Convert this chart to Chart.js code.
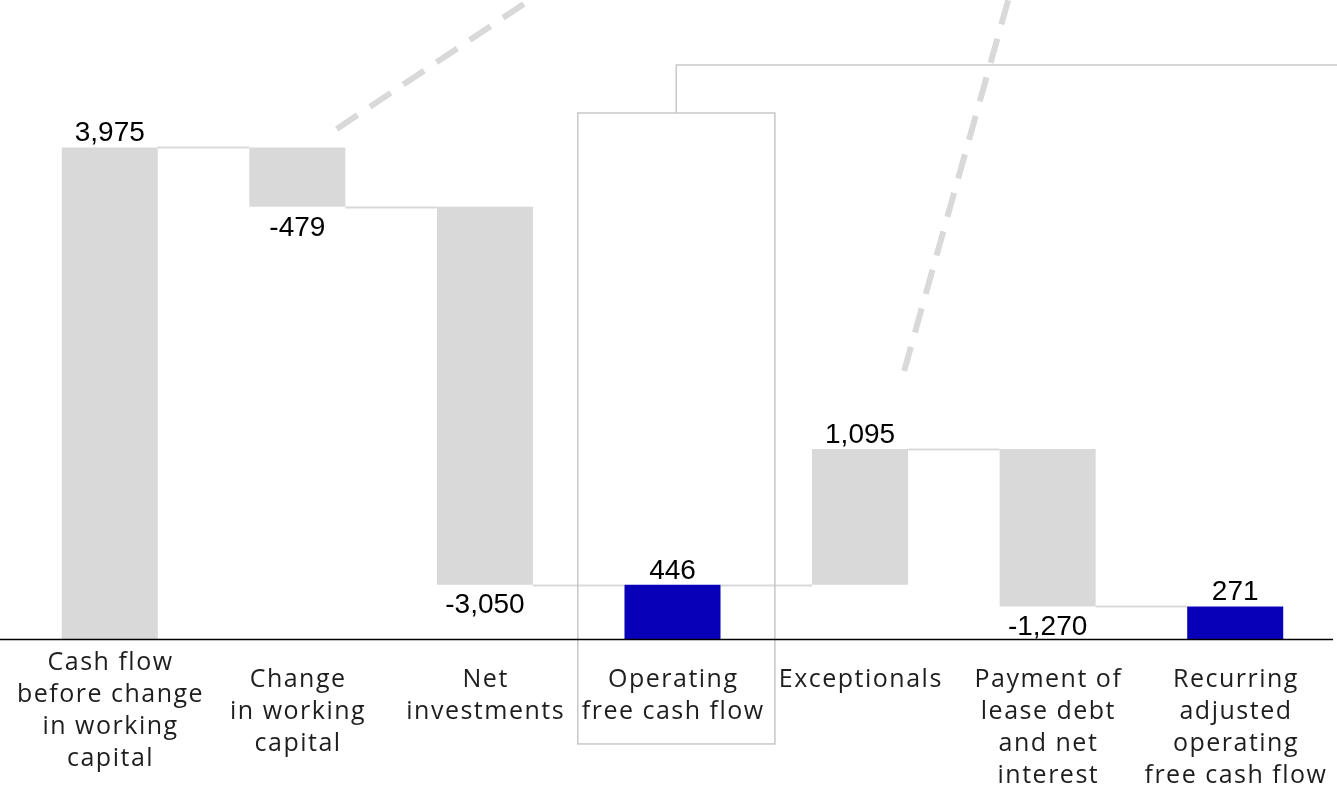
<!DOCTYPE html>
<html>
<head>
<meta charset="utf-8">
<title>Free cash flow bridge</title>
<script src="https://cdn.jsdelivr.net/npm/chart.js@4/dist/chart.umd.min.js"></script>
<style>
  html, body { margin: 0; padding: 0; background: #fff; }
  #wrap { width: 1337px; height: 788px; position: relative; }
</style>
</head>
<body>
<div id="wrap"><canvas id="bridgeChart"></canvas></div>
<script>
// ---- Données ----
const categories = [
    ["Cash flow", "before change", "in working", "capital"],
    ["Change", "in working", "capital"],
    ["Net", "investments"],
    ["Operating", "free cash flow"],
    ["Exceptionals"],
    ["Payment of", "lease debt", "and net", "interest"],
    ["Recurring", "adjusted", "operating", "free cash flow"]
];
const amounts = [3975, -479, -3050, 446, 1095, -1270, 271];
const subtotals = [false, false, false, true, false, false, true];

const GREY = "#d9d9d9";
const BLUE = "#0800b8";
const FRAME = "#c8c8c8";
const yMax = 5165;

// ---- Barres flottantes (cascade) ----
const ranges = [];
let running = 0;
amounts.forEach((v, i) => {
    if (subtotals[i]) {
        ranges.push([0, v]);
        running = v;
    } else {
        ranges.push([running, running + v]);
        running += v;
    }
});

const fmt = v => v.toLocaleString("en-US");

// ---- Décor : lignes de liaison, axe zéro, étiquettes ----
const bridgePlugin = {
    id: "bridge",
    beforeDatasetsDraw(chart) {
        const { ctx } = chart;
        const x = chart.scales.x, y = chart.scales.y;
        const meta = chart.getDatasetMeta(0);
        const cat = i => x.getPixelForValue(i);
        const val = v => y.getPixelForValue(v);

        ctx.save();
        // connecteurs entre barres
        ctx.strokeStyle = GREY;
        ctx.lineWidth = 2;
        for (let i = 0; i < ranges.length - 1; i++) {
            const level = ranges[i][1];
            const a = meta.data[i], b = meta.data[i + 1];
            const yy = Math.round(val(level)) + 0.5;
            ctx.beginPath();
            ctx.moveTo(a.x + a.width / 2, yy);
            ctx.lineTo(b.x - b.width / 2, yy);
            ctx.stroke();
        }

        // traits pointillés
        ctx.lineWidth = 6;
        ctx.setLineDash([25, 15]);
        ctx.beginPath();
        ctx.moveTo(cat(1.21), val(4124));
        ctx.lineTo(cat(2.56), val(5490));
        ctx.moveTo(cat(4.235), val(2171));
        ctx.lineTo(cat(4.85), val(5490));
        ctx.stroke();
        ctx.setLineDash([]);

        // cadre autour du sous-total
        ctx.strokeStyle = FRAME;
        ctx.lineWidth = 1.5;
        const left = cat(2.495), right = cat(3.546);
        const top = val(4253), bottom = val(-839);
        ctx.strokeRect(left, top, right - left, bottom - top);
        const mid = cat(3.02);
        ctx.beginPath();
        ctx.moveTo(mid, top);
        ctx.lineTo(mid, val(4640));
        ctx.lineTo(chart.width + 5, val(4640));
        ctx.stroke();
        ctx.restore();
    },
    afterDatasetsDraw(chart) {
        const { ctx } = chart;
        const x = chart.scales.x, y = chart.scales.y;
        ctx.save();

        // ligne de base
        const y0 = Math.round(y.getPixelForValue(0)) - 0.5;
        ctx.strokeStyle = "#000";
        ctx.lineWidth = 1.5;
        ctx.beginPath();
        ctx.moveTo(0, y0);
        ctx.lineTo(chart.width - 4, y0);
        ctx.stroke();

        // valeurs
        ctx.fillStyle = "#000";
        ctx.font = "28px 'Liberation Sans', Arial, sans-serif";
        ctx.textAlign = "center";
        amounts.forEach((v, i) => {
            const cx = x.getPixelForValue(i);
            const [s, e] = ranges[i];
            if (v >= 0) {
                ctx.textBaseline = "alphabetic";
                ctx.fillText(fmt(v), cx, y.getPixelForValue(Math.max(s, e)) - 6);
            } else {
                ctx.textBaseline = "top";
                ctx.fillText(fmt(v), cx, y.getPixelForValue(Math.min(s, e)) + 7);
            }
        });

        // libellés des catégories
        ctx.fillStyle = "#1e1e1e";
        ctx.font = "25px 'Open Sans', 'Noto Sans', sans-serif";
        ctx.letterSpacing = "1.5px";
        ctx.textBaseline = "middle";
        categories.forEach((lines, i) => {
            const cx = x.getPixelForValue(i) + 0.75;
            const start = y0 + (i === 0 ? 23 : 40);
            lines.forEach((t, k) => ctx.fillText(t, cx, start + k * 32));
        });
        ctx.restore();
    }
};

// ---- Graphique ----
new Chart(document.getElementById("bridgeChart"), {
    type: "bar",
    data: {
        labels: categories,
        datasets: [{
            data: ranges,
            backgroundColor: subtotals.map(t => t ? BLUE : GREY),
            borderWidth: 0,
            borderSkipped: false,
            barPercentage: 0.512,
            categoryPercentage: 1
        }]
    },
    options: {
        responsive: true,
        maintainAspectRatio: false,
        animation: false,
        layout: { padding: { left: 16, right: 8, top: 0, bottom: 148 } },
        plugins: {
            legend: { display: false },
            tooltip: { enabled: false }
        },
        scales: {
            x: { display: false, grid: { display: false } },
            y: { display: false, min: 0, max: yMax, grid: { display: false } }
        }
    },
    plugins: [bridgePlugin]
});
</script>
</body>
</html>
